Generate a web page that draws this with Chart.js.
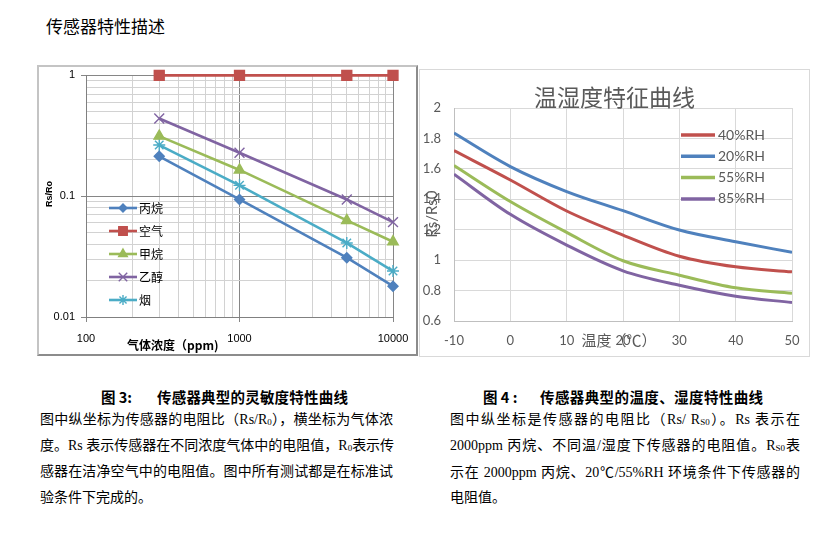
<!DOCTYPE html>
<html>
<head>
<meta charset="utf-8">
<script src="https://cdn.jsdelivr.net/npm/chart.js@4.4.1/dist/chart.umd.min.js"></script>
<style>
  body { margin: 0; background: #fff; }
  #page { position: relative; width: 839px; height: 550px; overflow: hidden; background: #fff;
          font-family: "Noto Sans CJK SC", sans-serif; color: #000; }
  .abs { position: absolute; }
  #heading { left: 46px; top: 14px; font-size: 17px; line-height: 24px; white-space: nowrap; }
  #frameL { left: 37px; top: 65px; width: 377px; height: 287px;
            border: 2px solid #c4c4c4; border-right-color: #8c8c8c; border-bottom-color: #8c8c8c; }
  #frameR { left: 419px; top: 69px; width: 389px; height: 286px; border: 1px solid #d9d9d9; }
  #chartL { left: 39px; top: 67px; }
  #chartR { left: 420px; top: 70px; }
  .cap { font-size: 14.5px; line-height: 20px; font-weight: bold; white-space: nowrap; top: 387px; }
  .ln { font-size: 14px; line-height: 20px; white-space: nowrap;
        font-family: "Liberation Serif", "Noto Sans CJK SC", serif; }
  .just { text-align: justify; text-align-last: justify; }
  .colL { left: 40px; width: 353px; }
  .colR { left: 450px; width: 350px; }
  sub { font-size: 9px; vertical-align: -1px; line-height: 0; }
</style>
</head>
<body>
<div id="page">
  <div id="heading" class="abs">传感器特性描述</div>

  <div id="frameL" class="abs"></div>
  <div id="frameR" class="abs"></div>
  <canvas id="chartL" class="abs" width="377" height="287"></canvas>
  <canvas id="chartR" class="abs" width="389" height="286"></canvas>

  <div class="abs cap" style="left:101px">图 3:</div>
  <div class="abs cap" style="left:157px; letter-spacing:0.2px">传感器典型的灵敏度特性曲线</div>
  <div class="abs cap" style="left:483px">图 4 :</div>
  <div class="abs cap" style="left:540px; letter-spacing:0.4px">传感器典型的温度、湿度特性曲线</div>

  <div class="abs ln just colL" style="top:410px">图中纵坐标为传感器的电阻比（Rs/R<sub>0</sub>），横坐标为气体浓</div>
  <div class="abs ln just colL" style="top:436px">度。Rs 表示传感器在不同浓度气体中的电阻值，R<sub>0</sub>表示传</div>
  <div class="abs ln just colL" style="top:462px">感器在洁净空气中的电阻值。图中所有测试都是在标准试</div>
  <div class="abs ln colL" style="top:488px">验条件下完成的。</div>

  <div class="abs ln just colR" style="top:410px">图中纵坐标是传感器的电阻比（Rs/ R<sub>S0</sub>）。Rs 表示在</div>
  <div class="abs ln just colR" style="top:436px">2000ppm 丙烷、不同温/湿度下传感器的电阻值。R<sub>S0</sub>表</div>
  <div class="abs ln just colR" style="top:463px">示在 2000ppm 丙烷、20℃/55%RH 环境条件下传感器的</div>
  <div class="abs ln colR" style="top:488px">电阻值。</div>
</div>

<script>
// sensitivity chart (fig 3)
const concPpm = [300, 1000, 5000, 10000];
const propane = [0.214, 0.094, 0.031, 0.018];
const air = [1, 1, 1, 1];
const methane = [0.314, 0.165, 0.063, 0.042];
const ethanol = [0.44, 0.229, 0.094, 0.061];
const smoke = [0.265, 0.123, 0.041, 0.024];
const gasNames = ['丙烷', '空气', '甲烷', '乙醇', '烟'];
const xTickLabelsL = ['100', '1000', '10000'];
const yTickLabelsL = ['0.01', '0.1', '1'];

// temperature / humidity chart (fig 4)
const tempC = [-10, 0, 10, 20, 30, 40, 50];
const rh40 = [1.72, 1.527, 1.323, 1.165, 1.026, 0.956, 0.923];
const rh20 = [1.835, 1.615, 1.451, 1.325, 1.198, 1.121, 1.051];
const rh55 = [1.622, 1.385, 1.182, 0.996, 0.901, 0.818, 0.782];
const rh85 = [1.565, 1.301, 1.099, 0.93, 0.835, 0.763, 0.721];
const rhNames = ['40%RH', '20%RH', '55%RH', '85%RH'];
const xTickLabelsR = ['-10', '0', '10', '20', '30', '40', '50'];
const yTickLabelsR = ['0.6', '0.8', '1', '1.2', '1.4', '1.6', '1.8', '2'];

const pairs = (xs, ys) => xs.map((x, i) => ({ x, y: ys[i] }));
const isDecade = v => Math.abs(Math.log10(v) - Math.round(Math.log10(v))) < 1e-6;
const pickLabel = (labels, v) => labels.find(l => Math.abs(parseFloat(l) - v) < 1e-6 * Math.max(1, Math.abs(v))) || '';
// keep only 1..9 x 10^n ticks (drop the 1.5 ones chart.js adds)
const keepWholeTicks = s => {
    s.ticks = s.ticks.filter(t => {
        const m = t.value / Math.pow(10, Math.floor(Math.log10(t.value) + 1e-9));
        return Math.abs(m - Math.round(m)) < 1e-6;
    });
};
// fixed axis box size, no extra label padding so the plot area lands where layout.padding says
const fixBox = (w, h) => s => {
    if (w !== null) s.width = w;
    if (h !== null) s.height = h;
    s.paddingTop = 0; s.paddingBottom = 0; s.paddingLeft = 0; s.paddingRight = 0;
};

// legend drawn inside the plot, rows of line + marker + label
const boxLegend = {
    id: 'boxLegend',
    afterDatasetsDraw(chart, args, opts) {
        const ctx = chart.ctx;
        const drawPoint = Chart.helpers && Chart.helpers.drawPoint;
        chart.data.datasets.forEach((ds, i) => {
            const y = opts.y + i * opts.row;
            ctx.save();
            ctx.strokeStyle = ds.borderColor;
            ctx.lineWidth = opts.lineWidth || ds.borderWidth;
            ctx.beginPath();
            ctx.moveTo(opts.x, y);
            ctx.lineTo(opts.x + opts.len, y);
            ctx.stroke();
            if (drawPoint && ds.pointRadius) {
                ctx.fillStyle = ds.pointBackgroundColor;
                ctx.strokeStyle = ds.pointBorderColor;
                ctx.lineWidth = ds.pointBorderWidth;
                drawPoint(ctx, { pointStyle: ds.pointStyle, radius: ds.pointRadius - 1,
                                 borderWidth: ds.pointBorderWidth, rotation: 0 },
                          opts.x + opts.len / 2, y);
            }
            ctx.fillStyle = opts.color;
            ctx.font = opts.font;
            ctx.textAlign = 'left';
            ctx.textBaseline = 'middle';
            ctx.fillText(ds.label, opts.x + opts.len + opts.gap, y);
            ctx.restore();
        });
    }
};

// free titles placed like the original
const axisTitles = {
    id: 'axisTitles',
    afterDraw(chart, args, opts) {
        const ctx = chart.ctx;
        (opts.items || []).forEach(it => {
            ctx.save();
            ctx.translate(it.x, it.y);
            if (it.rotate) ctx.rotate(it.rotate);
            ctx.font = it.font;
            ctx.fillStyle = it.color;
            ctx.textAlign = it.align || 'center';
            ctx.textBaseline = 'middle';
            ctx.fillText(it.text, 0, 0);
            ctx.restore();
        });
    }
};

const gasStyles = [
    { color: '#4F81BD', pointStyle: 'rectRot', radius: 5 },
    { color: '#C0504D', pointStyle: 'rect', radius: 7 },
    { color: '#9BBB59', pointStyle: 'triangle', radius: 6 },
    { color: '#8064A2', pointStyle: 'crossRot', radius: 7 },
    { color: '#4BACC6', pointStyle: 'star', radius: 6 }
];
const gasSeries = [propane, air, methane, ethanol, smoke];

new Chart(document.getElementById('chartL'), {
    type: 'line',
    data: {
        datasets: gasSeries.map((ys, i) => ({
            label: gasNames[i],
            data: pairs(concPpm, ys),
            borderColor: gasStyles[i].color,
            borderWidth: 2.6,
            pointStyle: gasStyles[i].pointStyle,
            pointRadius: gasStyles[i].radius,
            pointBackgroundColor: gasStyles[i].color,
            pointBorderColor: gasStyles[i].color,
            pointBorderWidth: 1.4,
            tension: 0,
            clip: false
        }))
    },
    options: {
        responsive: false,
        animation: false,
        layout: { padding: { left: 0, top: 7, right: 23, bottom: 0 } },
        plugins: {
            legend: { display: false },
            tooltip: { enabled: false },
            boxLegend: { x: 70, y: 141, row: 23, len: 28, gap: 2, color: '#000',
                         font: '12px "Noto Sans CJK SC"' },
            axisTitles: {
                items: [
                    { text: 'Rs/Ro', x: 11, y: 127, rotate: -Math.PI / 2,
                      font: 'bold 9px "Liberation Sans"', color: '#000' },
                    { text: '气体浓度（ppm)', x: 88, y: 278, align: 'left',
                      font: 'bold 12px "Noto Sans CJK SC"', color: '#000' }
                ]
            }
        },
        scales: {
            x: {
                type: 'logarithmic',
                min: 100,
                max: 10000,
                afterBuildTicks: keepWholeTicks,
                afterFit: fixBox(null, 37),
                border: { color: '#808080', width: 1 },
                grid: {
                    color: c => (c.tick && isDecade(c.tick.value)) ? '#868686' : '#d2d2d2',
                    tickColor: c => (c.tick && isDecade(c.tick.value)) ? '#868686' : 'rgba(0,0,0,0)',
                    tickLength: 5
                },
                ticks: {
                    autoSkip: false,
                    maxRotation: 0,
                    padding: 10,
                    color: '#000',
                    font: { family: '"Liberation Sans"', size: 11 },
                    callback: v => isDecade(v) ? pickLabel(xTickLabelsL, v) : ''
                }
            },
            y: {
                type: 'logarithmic',
                min: 0.01,
                max: 1,
                afterBuildTicks: keepWholeTicks,
                afterFit: fixBox(47, null),
                border: { color: '#808080', width: 1 },
                grid: {
                    color: c => (c.tick && isDecade(c.tick.value)) ? '#868686' : '#d2d2d2',
                    tickColor: c => (c.tick && isDecade(c.tick.value)) ? '#868686' : 'rgba(0,0,0,0)',
                    tickLength: 5
                },
                ticks: {
                    autoSkip: false,
                    padding: 6,
                    color: '#000',
                    font: { family: '"Liberation Sans"', size: 11 },
                    callback: v => isDecade(v) ? pickLabel(yTickLabelsL, v) : ''
                }
            }
        }
    },
    plugins: [boxLegend, axisTitles]
});

const rhColors = ['#C0504D', '#4F81BD', '#9BBB59', '#8064A2'];
const rhSeries = [rh40, rh20, rh55, rh85];

new Chart(document.getElementById('chartR'), {
    type: 'line',
    data: {
        datasets: rhSeries.map((ys, i) => ({
            label: rhNames[i],
            data: pairs(tempC, ys),
            borderColor: rhColors[i],
            borderWidth: 3,
            pointRadius: 0,
            cubicInterpolationMode: 'monotone'
        }))
    },
    options: {
        responsive: false,
        animation: false,
        layout: { padding: { left: 0, top: 38, right: 17, bottom: 0 } },
        plugins: {
            legend: { display: false },
            tooltip: { enabled: false },
            boxLegend: { x: 261, y: 65, row: 21.3, len: 34, gap: 3, lineWidth: 3.5, color: '#595959',
                         font: '14px Lato' },
            axisTitles: {
                items: [
                    { text: '温湿度特征曲线', x: 194.5, y: 27,
                      font: '23px "Noto Sans CJK SC"', color: '#595959' },
                    { text: 'Rs/Rs0', x: 12, y: 144, rotate: -Math.PI / 2,
                      font: '15px Lato', color: '#595959' },
                    { text: '温度（℃）', x: 199, y: 270,
                      font: '15px "Noto Sans CJK SC"', color: '#595959' }
                ]
            }
        },
        scales: {
            x: {
                type: 'linear',
                min: -10,
                max: 50,
                afterFit: fixBox(null, 35),
                border: { color: '#bfbfbf', width: 1 },
                grid: { color: '#d9d9d9', drawTicks: false },
                ticks: { stepSize: 10, padding: 12, color: '#595959', maxRotation: 0,
                         font: { family: 'Lato', size: 13 },
                         callback: v => pickLabel(xTickLabelsR, v) }
            },
            y: {
                min: 0.6,
                max: 2,
                afterFit: fixBox(34, null),
                border: { color: '#bfbfbf', width: 1 },
                grid: { color: '#d9d9d9', drawTicks: false },
                ticks: { stepSize: 0.2, padding: 13, color: '#595959',
                         font: { family: 'Lato', size: 13 },
                         callback: v => pickLabel(yTickLabelsR, v) }
            }
        }
    },
    plugins: [boxLegend, axisTitles]
});
</script>
</body>
</html>
